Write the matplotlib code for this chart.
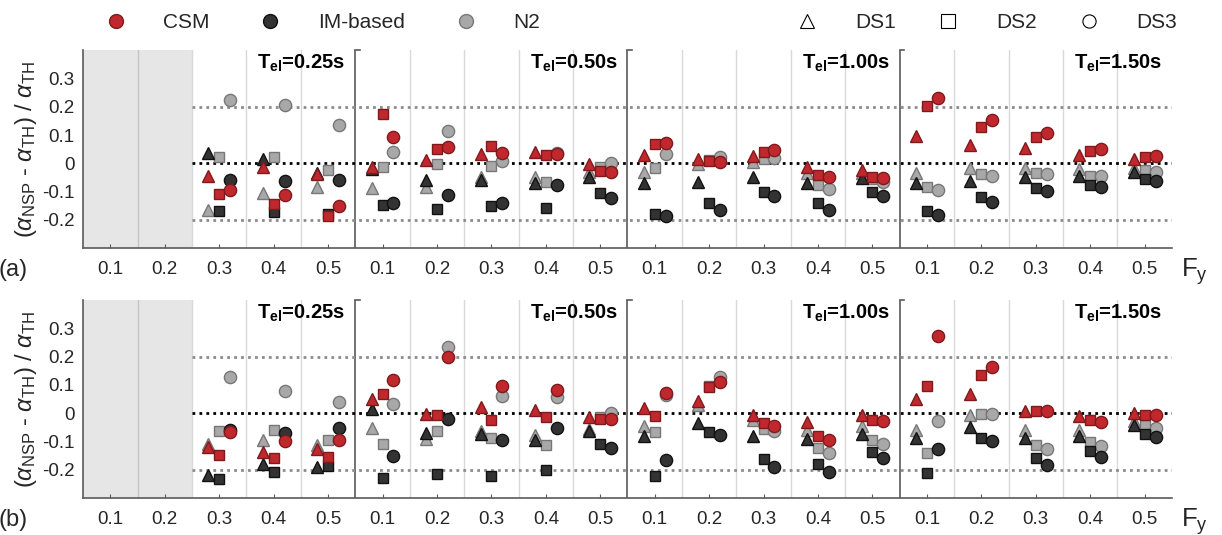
import numpy as np
import matplotlib.pyplot as plt
from matplotlib.lines import Line2D

plt.rcParams['font.family'] = ['Liberation Sans', 'DejaVu Sans']
plt.rcParams['mathtext.fontset'] = 'custom'
plt.rcParams['mathtext.rm'] = 'Liberation Sans'
plt.rcParams['mathtext.it'] = 'Liberation Sans:italic'
plt.rcParams['mathtext.bf'] = 'Liberation Sans:bold'

nan = np.nan
fy_labels = ['0.1', '0.2', '0.3', '0.4', '0.5']
t_el = ['0.25', '0.50', '1.00', '1.50']
methods = ['CSM', 'IM-based', 'N2']
damage_states = ['DS1', 'DS2', 'DS3']

# values per (T_el group x Fy), 20 entries; the first two cells of T_el=0.25s are empty
# panel (a)
a_csm_ds1 = [nan, nan, -0.044, -0.012, -0.038, -0.011, 0.012, 0.035, 0.039, -0.002,
             0.031, 0.015, 0.027, -0.014, -0.022, 0.098, 0.066, 0.054, 0.031, 0.015]
a_csm_ds2 = [nan, nan, -0.108, -0.142, -0.185, 0.176, 0.051, 0.062, 0.031, -0.026,
             0.068, 0.007, 0.042, -0.041, -0.047, 0.202, 0.129, 0.092, 0.045, 0.024]
a_csm_ds3 = [nan, nan, -0.093, -0.111, -0.152, 0.092, 0.059, 0.038, 0.035, -0.029,
             0.073, 0.006, 0.048, -0.049, -0.053, 0.233, 0.155, 0.107, 0.051, 0.027]
a_im_ds1 = [nan, nan, 0.036, 0.015, -0.035, -0.020, -0.059, -0.059, -0.068, -0.049,
            -0.071, -0.067, -0.047, -0.071, -0.052, -0.071, -0.061, -0.047, -0.044, -0.030]
a_im_ds2 = [nan, nan, -0.167, -0.173, -0.180, -0.146, -0.161, -0.152, -0.158, -0.106,
            -0.179, -0.141, -0.100, -0.141, -0.100, -0.167, -0.118, -0.087, -0.076, -0.055]
a_im_ds3 = [nan, nan, -0.059, -0.061, -0.059, -0.141, -0.111, -0.140, -0.076, -0.122,
            -0.187, -0.165, -0.116, -0.164, -0.114, -0.181, -0.138, -0.099, -0.085, -0.061]
a_n2_ds1 = [nan, nan, -0.164, -0.106, -0.085, -0.088, -0.082, -0.049, -0.049, -0.032,
            -0.032, -0.002, 0.004, -0.035, -0.035, -0.033, -0.018, -0.018, -0.021, -0.018]
a_n2_ds2 = [nan, nan, 0.021, 0.022, -0.024, -0.014, -0.002, -0.009, -0.064, -0.012,
            -0.016, 0.012, 0.014, -0.076, -0.055, -0.085, -0.038, -0.035, -0.044, -0.024]
a_n2_ds3 = [nan, nan, 0.225, 0.208, 0.135, 0.042, 0.115, 0.009, 0.038, 0.000,
            0.033, 0.021, 0.019, -0.091, -0.067, -0.093, -0.044, -0.038, -0.044, -0.029]

# panel (b)
b_csm_ds1 = [nan, nan, -0.120, -0.138, -0.128, 0.051, -0.001, 0.022, 0.011, -0.013,
             0.019, 0.042, -0.007, -0.030, -0.007, 0.051, 0.069, 0.007, -0.011, 0.002]
b_csm_ds2 = [nan, nan, -0.147, -0.158, -0.155, 0.068, -0.007, -0.025, -0.012, -0.022,
             -0.009, 0.093, -0.034, -0.080, -0.025, 0.096, 0.136, 0.007, -0.025, -0.005]
b_csm_ds3 = [nan, nan, -0.067, -0.099, -0.096, 0.116, 0.200, 0.098, 0.082, -0.021,
             0.072, 0.111, -0.046, -0.095, -0.029, 0.272, 0.165, 0.008, -0.032, -0.007]
b_im_ds1 = [nan, nan, -0.220, -0.179, -0.191, 0.016, -0.069, -0.072, -0.093, -0.063,
            -0.080, -0.034, -0.080, -0.092, -0.072, -0.089, -0.048, -0.089, -0.081, -0.042]
b_im_ds2 = [nan, nan, -0.234, -0.208, -0.185, -0.228, -0.215, -0.221, -0.201, -0.107,
            -0.222, -0.068, -0.162, -0.181, -0.136, -0.213, -0.087, -0.158, -0.135, -0.072]
b_im_ds3 = [nan, nan, -0.059, -0.071, -0.053, -0.152, -0.019, -0.095, -0.051, -0.122,
            -0.164, -0.078, -0.190, -0.209, -0.157, -0.125, -0.099, -0.182, -0.153, -0.084]
b_n2_ds1 = [nan, nan, -0.108, -0.096, -0.112, -0.052, -0.092, -0.062, -0.078, -0.054,
            -0.045, 0.028, -0.025, -0.060, -0.046, -0.058, -0.005, -0.061, -0.059, -0.029]
b_n2_ds2 = [nan, nan, -0.064, -0.061, -0.093, -0.109, -0.064, -0.089, -0.113, -0.013,
            -0.065, 0.095, -0.057, -0.122, -0.095, -0.139, -0.004, -0.111, -0.100, -0.042]
b_n2_ds3 = [nan, nan, 0.129, 0.080, 0.041, 0.034, 0.233, 0.060, 0.056, 0.002,
            0.064, 0.128, -0.064, -0.142, -0.109, -0.029, -0.001, -0.128, -0.116, -0.052]

panel_a = {'N2': [a_n2_ds1, a_n2_ds2, a_n2_ds3],
           'IM-based': [a_im_ds1, a_im_ds2, a_im_ds3],
           'CSM': [a_csm_ds1, a_csm_ds2, a_csm_ds3]}
panel_b = {'N2': [b_n2_ds1, b_n2_ds2, b_n2_ds3],
           'IM-based': [b_im_ds1, b_im_ds2, b_im_ds3],
           'CSM': [b_csm_ds1, b_csm_ds2, b_csm_ds3]}

face = {'CSM': '#C1282D', 'IM-based': '#333333', 'N2': '#A8A8A8'}
edge = {'CSM': '#7E1A1C', 'IM-based': '#111111', 'N2': '#777777'}
shape = ['^', 's', 'o']
msize = [9, 7.5, 8.8]
offset = [-0.2, 0.0, 0.2]
zorder = {'N2': 3, 'IM-based': 4, 'CSM': 5}

txt_col = '#262626'
n_cells = len(t_el) * len(fy_labels)
centers = np.arange(n_cells) + 0.5


def draw_panel(ax, data, tag):
    ax.set_xlim(0, n_cells)
    ax.set_ylim(-0.3, 0.4)
    # empty cells of the first group
    ax.axvspan(0, 2, color='#E6E6E6', lw=0, zorder=0)
    for x in range(1, n_cells):
        if x % 5 == 0:
            ax.axvline(x, color='#5A5A5A', lw=1.2, zorder=1)
            ax.plot([x, x + 0.08], [0.4, 0.4], color='#5A5A5A', lw=1.2, zorder=1, clip_on=False)
        else:
            ax.axvline(x, color='#D9D9D9' if x > 1 else '#C4C4C4', lw=1.0, zorder=1)
    ax.hlines([0.2, -0.2], 2, n_cells, colors='#8C8C8C', linestyles=(0, (1, 1.5)), lw=2, zorder=2)
    ax.hlines(0, 2, n_cells, colors='black', linestyles=(0, (1, 1.5)), lw=2, zorder=2)

    for m in ['N2', 'IM-based', 'CSM']:
        for d in range(3):
            ax.plot(centers + offset[d], data[m][d], ls='none', marker=shape[d], ms=msize[d],
                    mfc=face[m], mec=edge[m], mew=1.0, zorder=zorder[m])

    for g, t in enumerate(t_el):
        ax.text((g + 1) * 5 - 0.18, 0.335, r'T$_{\mathbf{el}}$=' + t + 's', ha='right', va='baseline',
                fontsize=14.5, fontweight='bold', color='black', zorder=6)

    ax.set_xticks(centers)
    ax.set_xticklabels(fy_labels * len(t_el))
    ax.set_yticks([-0.2, -0.1, 0, 0.1, 0.2, 0.3])
    ax.set_yticklabels(['-0.2', '-0.1', '0', '0.1', '0.2', '0.3'])
    ax.tick_params(axis='x', direction='in', length=3, color='#5A5A5A', labelsize=13.5,
                   labelcolor=txt_col, pad=9)
    ax.tick_params(axis='y', length=0, labelsize=13.5, labelcolor=txt_col, pad=6)
    for s in ['top', 'right']:
        ax.spines[s].set_visible(False)
    for s in ['left', 'bottom']:
        ax.spines[s].set_color('#5A5A5A')
        ax.spines[s].set_linewidth(1.2)
    ax.set_ylabel(r'$(\alpha_{\mathrm{NSP}}$ - $\alpha_{\mathrm{TH}})$ / $\alpha_{\mathrm{TH}}$',
                  fontsize=17, color=txt_col, labelpad=2)
    ax.text(-0.078, -0.055, tag, transform=ax.transAxes, fontsize=17, color=txt_col,
            ha='left', va='top')
    ax.text(1.008, -0.04, r'F$_\mathrm{y}$', transform=ax.transAxes, fontsize=18.5, color=txt_col,
            ha='left', va='top')


fig = plt.figure(figsize=(12.22, 5.35), dpi=100)
ax_a = fig.add_axes([0.068, 0.536, 0.891, 0.370])
ax_b = fig.add_axes([0.068, 0.069, 0.891, 0.370])
draw_panel(ax_a, panel_a, '(a)')
draw_panel(ax_b, panel_b, '(b)')

method_handles = [Line2D([], [], ls='none', marker='o', ms=10, mfc=face[m], mec=edge[m], mew=1.0)
                  for m in methods]
ds_handles = [Line2D([], [], ls='none', marker=shape[d], ms=9.5, mfc='white', mec='black', mew=0.8)
              for d in range(3)]
leg1 = fig.legend(method_handles, methods, loc='center left', bbox_to_anchor=(0.086, 0.958),
                  ncol=3, frameon=False, fontsize=15, handlelength=1.0, handletextpad=1.8,
                  columnspacing=2.4, borderpad=0, borderaxespad=0, labelcolor=txt_col)
leg2 = fig.legend(ds_handles, damage_states, loc='center left', bbox_to_anchor=(0.652, 0.958),
                  ncol=3, frameon=False, fontsize=15, handlelength=1.0, handletextpad=1.8,
                  columnspacing=2.0, borderpad=0, borderaxespad=0, labelcolor=txt_col)

fig.savefig('out.png', dpi=100)
